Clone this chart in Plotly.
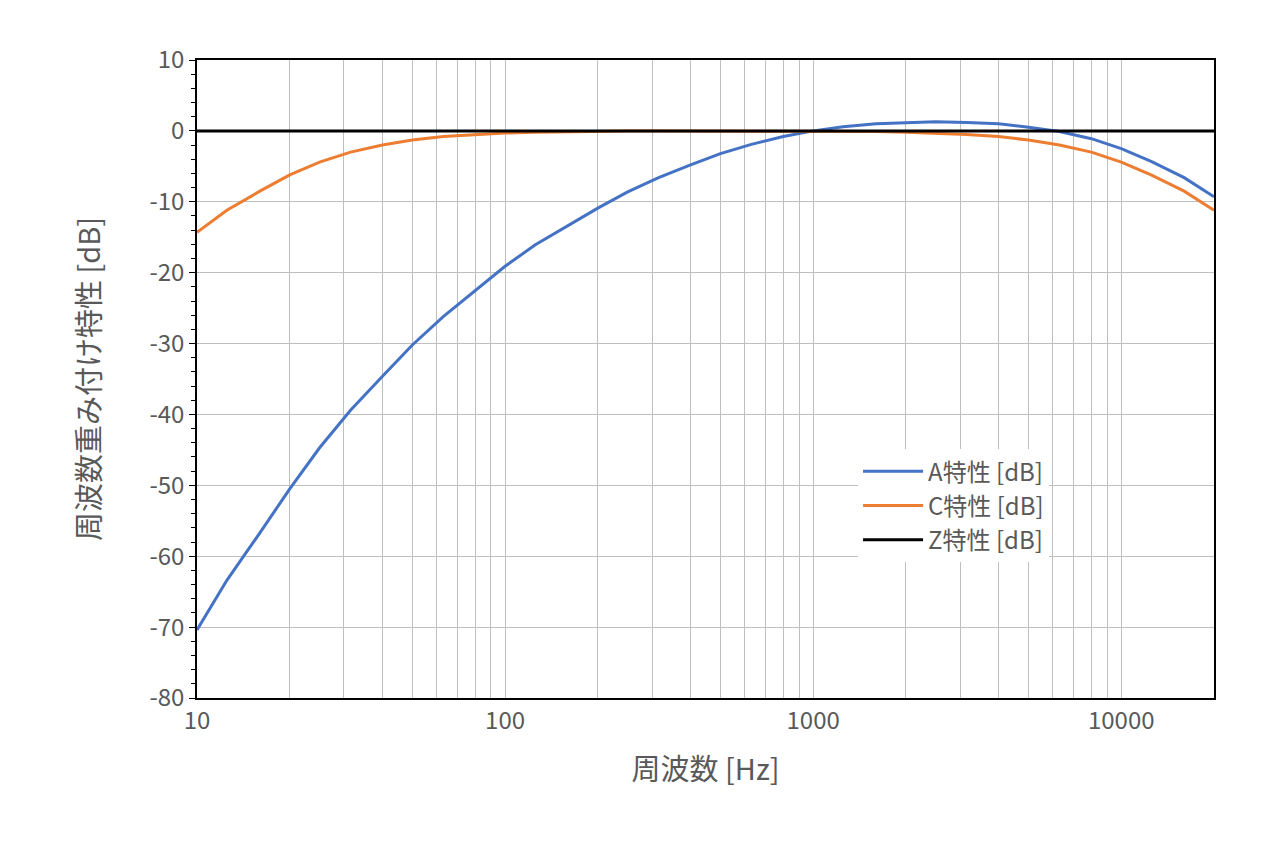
import plotly.graph_objects as go

freq = [10,12.5,16,20,25,31.5,40,50,63,80,100,125,160,200,250,315,400,500,630,800,1000,1250,1600,2000,2500,3150,4000,5000,6300,8000,10000,12500,16000,20000]
a_w = [-70.4,-63.4,-56.7,-50.5,-44.7,-39.4,-34.6,-30.2,-26.2,-22.5,-19.1,-16.1,-13.4,-10.9,-8.6,-6.6,-4.8,-3.2,-1.9,-0.8,0,0.6,1.0,1.2,1.3,1.2,1.0,0.5,-0.1,-1.1,-2.5,-4.3,-6.6,-9.3]
c_w = [-14.3,-11.2,-8.5,-6.2,-4.4,-3.0,-2.0,-1.3,-0.8,-0.5,-0.3,-0.2,-0.1,0,0,0,0,0,0,0,0,0,-0.1,-0.2,-0.3,-0.5,-0.8,-1.3,-2.0,-3.0,-4.4,-6.2,-8.5,-11.2]
z_w = [0]*len(freq)
names = ["A特性 [dB]", "C特性 [dB]", "Z特性 [dB]"]
colors = ["#4472C4", "#ED7D31", "#000000"]
y_ticks = [10, 0, -10, -20, -30, -40, -50, -60, -70, -80]

fig = go.Figure()
for ys, n, c in zip([a_w, c_w, z_w], names, colors):
    fig.add_trace(go.Scatter(x=freq, y=ys, name=n, mode="lines", line=dict(color=c, width=3)))

font = "Noto Sans CJK JP, Noto Sans, sans-serif"
fig.update_layout(
    width=1280, height=841, plot_bgcolor="white", paper_bgcolor="white",
    margin=dict(l=189, r=74, t=52, b=151),
    font=dict(family=font, size=24, color="#595959"),
    legend=dict(x=0.65, y=0.39, xanchor="left", yanchor="top", bgcolor="white",
                font=dict(size=24, color="#595959"), tracegroupgap=28, itemwidth=60),
    xaxis=dict(type="log", range=[1, 4.30103], title=dict(text="周波数 [Hz]", standoff=25),
               tickvals=[10,100,1000,10000], ticktext=["10","100","1000","10000"],
               showgrid=True, gridcolor="#BFBFBF", gridwidth=1,
               minor=dict(dtick="D1", showgrid=True, gridcolor="#BFBFBF", gridwidth=1),
               showline=True, linecolor="black", linewidth=1.5, mirror=True, ticks="", ticklen=0),
    yaxis=dict(range=[-80, 10], tickvals=y_ticks, ticktext=[str(v) for v in y_ticks],
               title=dict(text="周波数重み付け特性 [dB]", standoff=40),
               showgrid=True, gridcolor="#BFBFBF", zeroline=False,
               showline=True, linecolor="black", linewidth=1.5, mirror=True,
               ticks="outside", ticklen=6, tickcolor="black",
               minor=dict(dtick=2, ticks="outside", ticklen=4, tickcolor="black", showgrid=False)),
)
fig.write_html("out.html")
